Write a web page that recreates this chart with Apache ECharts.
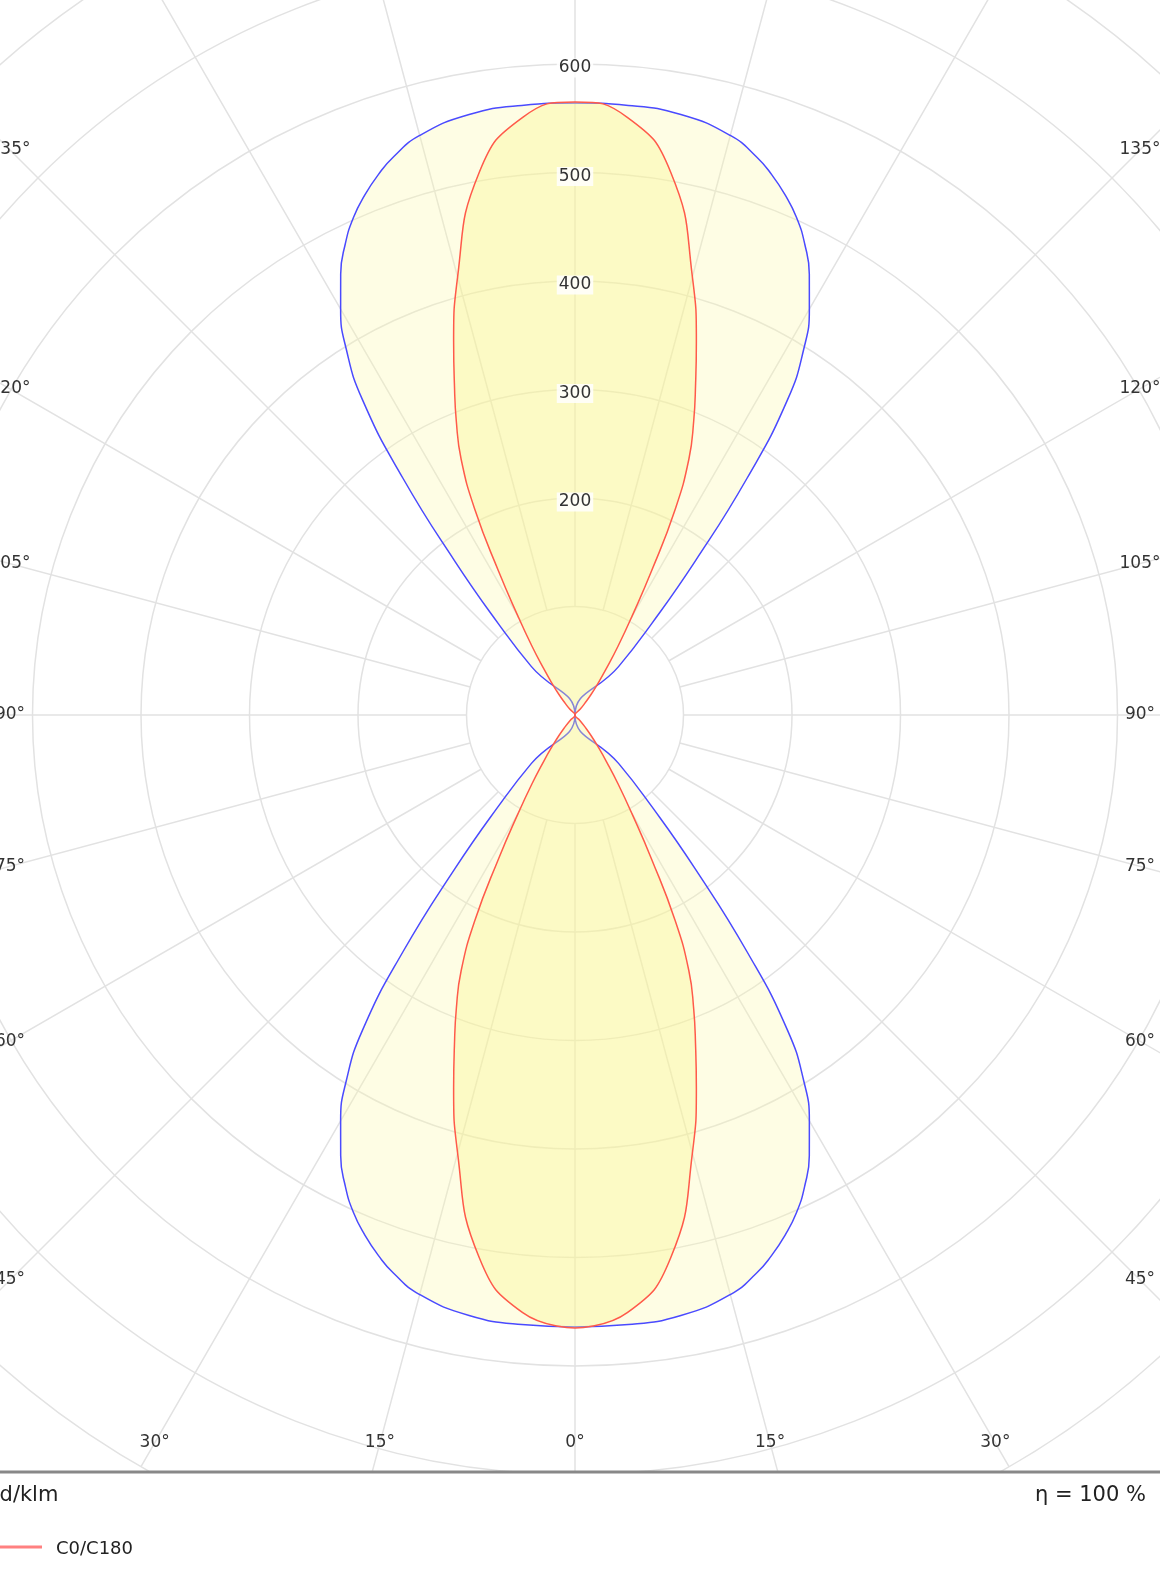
<!DOCTYPE html>
<html>
<head>
<meta charset="utf-8">
<script src="https://cdn.jsdelivr.net/npm/echarts@6/dist/echarts.min.js"></script>
<style>html,body{margin:0;padding:0;background:#fff}#chart{width:1160px;height:1582px}</style>
</head>
<body>
<div id="chart"></div>
<script>
// gamma measured from the nadir / zenith, cd/klm
var gammas = [0, 5, 10, 15, 18, 20, 22, 24, 26, 28, 30, 32, 34, 36, 38, 40, 42, 45];
var c90 = [564, 564, 562, 553, 541, 530, 517, 502, 483, 460, 432, 398, 350, 270, 180, 110, 60, 0];
var c0 = [565, 553, 508, 418, 362, 325, 292, 258, 210, 150, 105, 75, 52, 36, 24, 14, 7, 0];
var radiusTicks = [200, 300, 400, 500, 600];
var angleTicks = [0, 15, 30, 45, 60, 75, 90, 105, 120, 135];

var cx = 575, cy = 715, pxPer = 1.085, rMax = 800;

//把半个剖面展开成整圈
function fullCurve(prof) {
    var pts = [];
    var i;
    for (i = 0; i < gammas.length; i++) pts.push([prof[i], gammas[i]]);
    for (i = gammas.length - 1; i >= 0; i--) pts.push([prof[i], 180 - gammas[i]]);
    for (i = 0; i < gammas.length; i++) pts.push([prof[i], 180 + gammas[i]]);
    for (i = gammas.length - 1; i >= 0; i--) pts.push([prof[i], 360 - gammas[i]]);
    return pts;
}

var graphics = [];
//角度标签沿矩形边放置
var bottomY = 1443, sideX = 1140;
angleTicks.forEach(function(a) {
    [1, -1].forEach(function(s) {
        if (a == 0 && s < 0) return;
        var rad = a * Math.PI / 180;
        var dx = Math.sin(rad), dy = Math.cos(rad);
        var t = Math.min(dy > 0.001 ? (bottomY - cy) / dy : 1e9, (sideX - cx) / dx || 1e9);
        graphics.push({
            type: 'text', x: cx + s * dx * t, y: cy + dy * t, z: 10,
            style: { text: a + '°', fill: '#333', font: '17px "DejaVu Sans"', textAlign: 'center', textVerticalAlign: 'middle' }
        });
    });
});
radiusTicks.forEach(function(v) {
    graphics.push({
        type: 'text', x: cx, y: cy - v * pxPer + 4, z: 10,
        style: { text: String(v), fill: '#333', font: '17px "DejaVu Sans"', textAlign: 'center', textVerticalAlign: 'middle',
                 backgroundColor: 'rgba(255,255,255,0.85)', padding: [1, 2] }
    });
});
graphics.push({ type: 'rect', shape: { x: 0, y: 1472, width: 1160, height: 110 }, style: { fill: '#fff' }, z: 20 });
graphics.push({ type: 'line', shape: { x1: 0, y1: 1472, x2: 1160, y2: 1472 }, style: { stroke: '#888', lineWidth: 3 }, z: 21 });
graphics.push({ type: 'text', x: -12, y: 1496, z: 21, style: { text: 'cd/klm', fill: '#222', font: '21px "DejaVu Sans"', textVerticalAlign: 'middle' } });
graphics.push({ type: 'text', x: 1035, y: 1496, z: 21, style: { text: 'η = 100 %', fill: '#222', font: '21px "DejaVu Sans"', textVerticalAlign: 'middle' } });
graphics.push({ type: 'line', shape: { x1: 0, y1: 1547, x2: 42, y2: 1547 }, style: { stroke: '#ff8080', lineWidth: 3 }, z: 21 });
graphics.push({ type: 'text', x: 56, y: 1549, z: 21, style: { text: 'C0/C180', fill: '#222', font: '18px "DejaVu Sans"', textVerticalAlign: 'middle' } });

var option = {
    animation: false,
    polar: [
        { center: [cx, cy], radius: [100 * pxPer, rMax * pxPer] },
        { center: [cx, cy], radius: [0, rMax * pxPer] }
    ],
    angleAxis: [
        { polarIndex: 0, type: 'value', min: 0, max: 360, interval: 15, startAngle: -90,
          axisLine: { show: false }, axisTick: { show: false }, axisLabel: { show: false },
          splitLine: { lineStyle: { color: '#e2e2e2', width: 1.5 } } },
        { polarIndex: 1, type: 'value', min: 0, max: 360, startAngle: -90, show: false }
    ],
    radiusAxis: [
        { polarIndex: 0, min: 100, max: rMax, interval: 100, axisLine: { show: false }, axisTick: { show: false },
          axisLabel: { show: false }, splitLine: { lineStyle: { color: '#e2e2e2', width: 1.5 } } },
        { polarIndex: 1, min: 0, max: rMax, show: false }
    ],
    series: [
        { type: 'line', coordinateSystem: 'polar', polarIndex: 1, data: fullCurve(c90), symbol: 'none', smooth: 0.5,
          lineStyle: { color: '#4a4aff', width: 1.5 }, areaStyle: { color: 'rgba(252,250,170,0.45)', origin: 'start' }, z: 3 },
        { type: 'line', coordinateSystem: 'polar', polarIndex: 1, data: fullCurve(c0), symbol: 'none', smooth: 0.5,
          lineStyle: { color: '#ff5a4a', width: 1.5 }, areaStyle: { color: 'rgba(250,245,140,0.5)', origin: 'start' }, z: 4 }
    ],
    graphic: graphics
};
echarts.init(document.getElementById('chart')).setOption(option);
</script>
</body>
</html>
